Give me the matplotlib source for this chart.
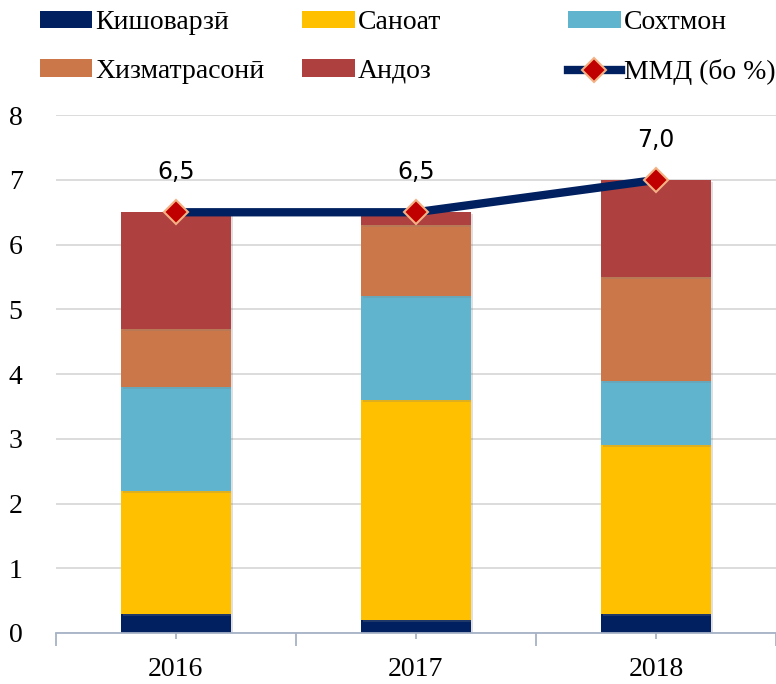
import numpy as np
import matplotlib
matplotlib.use("Agg")
import matplotlib.pyplot as plt
import matplotlib.patheffects as pe
from matplotlib.lines import Line2D
from matplotlib.patches import Patch

# data
years = ['2016', '2017', '2018']
series = ['Кишоварзӣ', 'Саноат', 'Сохтмон', 'Хизматрасонӣ', 'Андоз']
kishovarzi = [0.3, 0.2, 0.3]
sanoat = [1.9, 3.4, 2.6]
sokhtmon = [1.6, 1.6, 1.0]
khizmat = [0.9, 1.1, 1.6]
andoz = [1.8, 0.2, 1.5]
mmd = [6.5, 6.5, 7.0]
mmd_labels = ['6,5', '6,5', '7,0']
line_name = 'ММД (бо %)'

colors = ['#002060', '#FFC000', '#61B4CD', '#CC774A', '#AF4040']
serif = ['Liberation Serif', 'DejaVu Serif']

fig = plt.figure(figsize=(7.76, 6.84), dpi=100)
ax = fig.add_axes([0.072, 0.0746, 0.928, 0.757])

x = np.arange(len(years))
bottom = np.zeros(len(years))
shadow = [pe.SimplePatchShadow(offset=(1.5, -1.5), alpha=0.25, shadow_rgbFace='gray'), pe.Normal()]
for vals, c in zip([kishovarzi, sanoat, sokhtmon, khizmat, andoz], colors):
    ax.bar(x, vals, width=0.46, bottom=bottom, color=c, zorder=2, path_effects=shadow)
    bottom += np.array(vals)

ax.plot(x, mmd, color='#002060', linewidth=6, zorder=3,
        marker='D', markersize=12, markerfacecolor='#C00000',
        markeredgecolor='#F4B183', markeredgewidth=1.5, solid_capstyle='butt')
for xi, v, lab in zip(x, mmd, mmd_labels):
    ax.annotate(lab, (xi, v), xytext=(0, 29), textcoords='offset points',
                ha='center', va='center', fontsize=17, family='DejaVu Sans')

ax.set_xlim(-0.5, 2.5)
ax.set_ylim(0, 8)
ax.set_yticks(range(0, 9))
ax.yaxis.grid(True, color='#D9D9D9', linewidth=1.3, zorder=0)
ax.set_axisbelow(True)
for s in ['left', 'top', 'right']:
    ax.spines[s].set_visible(False)
ax.spines['bottom'].set_color('#A6B3C6')
ax.spines['bottom'].set_linewidth(1.3)

ax.set_xticks(x)
ax.set_xticklabels(years)
ax.set_xticks([-0.5, 0.5, 1.5, 2.5], minor=True)
ax.tick_params(axis='x', which='major', length=4, color='#A6B3C6', width=1.3, pad=13)
ax.tick_params(axis='x', which='minor', length=9, color='#A6B3C6', width=1.3)
ax.tick_params(axis='y', length=0, pad=24)
for lab in ax.get_xticklabels() + ax.get_yticklabels():
    lab.set_family(serif)
    lab.set_fontsize(20)

# legend: three columns placed separately
handles = [Patch(facecolor=c) for c in colors]
line_h = Line2D([], [], color='#002060', linewidth=6, marker='D', markersize=12,
                markerfacecolor='#C00000', markeredgecolor='#F4B183', markeredgewidth=1.5)
cols = [([handles[0], handles[3]], [series[0], series[3]], 0.051),
        ([handles[1], handles[4]], [series[1], series[4]], 0.389),
        ([handles[2], line_h], [series[2], line_name], 0.732)]
for hs, ls, xpos in cols:
    leg = fig.legend(hs, ls, loc='upper left', bbox_to_anchor=(xpos, 0.985),
                     frameon=False, prop={'family': serif, 'size': 20},
                     handlelength=1.9, handleheight=0.6, handletextpad=0.12,
                     labelspacing=0.85, borderaxespad=0, borderpad=0)

fig.savefig('out.png', dpi=100)
